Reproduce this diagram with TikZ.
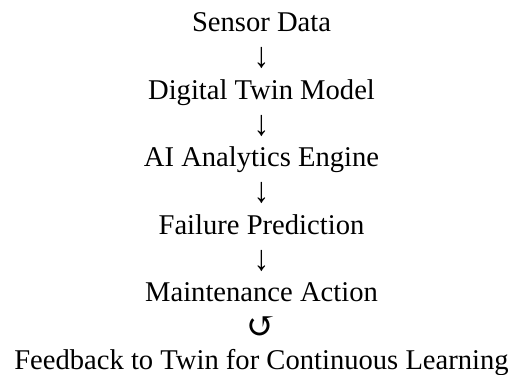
\documentclass[tikz,border=0pt]{standalone}
\usepackage{fontspec}
\usepackage{graphicx}
\setmainfont{Liberation Serif}
\newfontfamily\symfont{DejaVu Serif}
\tikzset{
  lbl/.style={inner sep=0pt, anchor=base, font=\fontsize{28.6}{33.75}\selectfont},
  arr/.style={inner sep=0pt, anchor=center, font=\fontsize{28.6}{33.75}\selectfont}
}
\newcommand{\downglyph}{\scalebox{1.1}[1.25]{↓}}
\begin{document}
\begin{tikzpicture}[x=1pt,y=1pt]
\useasboundingbox (0,0) rectangle (523,375);
\def\cx{261.5}
\def\ls{33.75}
\node[lbl] (s) at (\cx,{375-32}) {Sensor Data};
\node[arr] (a1) at (\cx,{375-58}) {\downglyph};
\node[lbl] (d) at (\cx,{375-32-2*\ls}) {Digital Twin Model};
\node[arr] (a2) at (\cx,{375-58-2*\ls}) {\downglyph};
\node[lbl] (ai) at (\cx,{375-32-4*\ls}) {AI Analytics Engine};
\node[arr] (a3) at (\cx,{375-58-4*\ls}) {\downglyph};
\node[lbl] (f) at (\cx,{375-32-6*\ls}) {Failure Prediction};
\node[arr] (a4) at (\cx,{375-58-6*\ls}) {\downglyph};
\node[lbl] (m) at (\cx,{375-32-8*\ls}) {Maintenance Action};
\node[arr] (a5) at (\cx,{375-58-8*\ls}) {{\symfont\fontsize{36}{40}\selectfont ↺}};
\node[lbl] (fb) at (\cx,{375-32-10*\ls}) {Feedback to Twin for Continuous Learning};
\end{tikzpicture}
\end{document}
